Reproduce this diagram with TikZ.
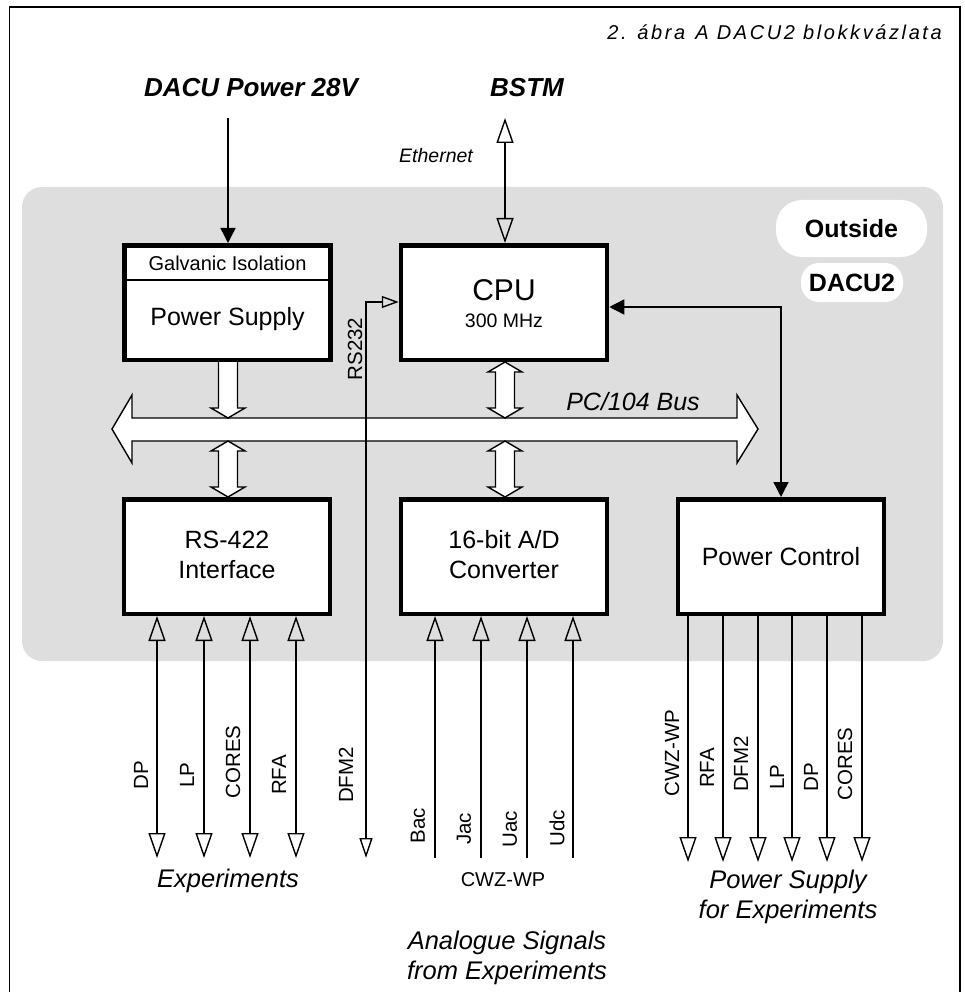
\documentclass[tikz,border=0pt]{standalone}
\usepackage{fontspec}
\setmainfont{Liberation Sans}
\usetikzlibrary{arrows.meta}
\newcommand{\fsz}[1]{\fontsize{#1}{#1}\selectfont}
\definecolor{bggray}{RGB}{222,222,222}
\newcommand{\wideDouble}[3]{%
  \draw[widearrow] (#1,#2) -- ++(17,10) -- ++(-7.5,0) -- (#1+9.5,#3-10) -- ++(7.5,0) -- (#1,#3)
    -- ++(-17,-10) -- ++(7.5,0) -- (#1-9.5,#2+10) -- ++(-7.5,0) -- cycle;}
\tikzset{
  obig/.tip={Triangle[open, length=25pt, width=17pt]},
  osmall/.tip={Triangle[open, length=20pt, width=13pt]},
  ocpu/.tip={Triangle[open, length=17pt, width=12pt]},
  ftip/.tip={Triangle[length=15pt, width=15pt]}
}
\begin{document}
\begin{tikzpicture}[x=1pt,y=-1pt,
  box/.style={draw, line width=4.5pt, fill=white, minimum width=206pt, minimum height=114.5pt, inner sep=0pt},
  txt/.style={inner sep=0pt, anchor=base},
  thinline/.style={line width=1.4pt},
  widearrow/.style={draw, fill=white, line width=1.4pt, line join=miter},
  lab/.style={inner sep=0pt, rotate=90, font=\fsz{20.5}},
  pill/.style={fill=white, inner sep=0pt, font=\bfseries\fsz{25}}
]
\useasboundingbox (0,0) rectangle (964,992);
% frame
\draw[line width=1.5pt] (9.5,992) -- (9.5,7) -- (960,7) -- (960,992);
% title
\node[txt, anchor=base east, font=\itshape\fsz{20}\addfontfeature{LetterSpace=13}] (title) at (942,40) {2. ábra\enspace A DACU2 blokkvázlata};
% grey background
\fill[bggray, rounded corners=20pt] (22,187) rectangle (943,661);
% outside labels
\node[pill, minimum width=151pt, minimum height=57pt, rounded corners=26pt] (outside) at (851.5,228.5) {Outside};
\node[pill, minimum width=102pt, minimum height=39pt, rounded corners=18pt] (dacu) at (852,282.5) {DACU2};
% top labels
\node[txt, font=\bfseries\itshape\fsz{26}] (pwr) at (251,97) {DACU Power 28V};
\node[txt, font=\bfseries\itshape\fsz{26}] (bstm) at (527,97) {BSTM};
\node[txt, font=\itshape\fsz{19.5}] (eth) at (436,163) {Ethernet};
% bus
\draw[widearrow] (112,429) -- (132,395) -- (132,418) -- (737,418) -- (737,395) -- (758,429)
  -- (737,463) -- (737,441) -- (132,441) -- (132,463) -- cycle;
\node[txt, font=\itshape\fsz{25}] (bus) at (633,410) {PC/104 Bus};
% wide arrows
\draw[widearrow] (218.5,358) -- (218.5,408) -- (211,408) -- (228,418) -- (245,408) -- (237.5,408) -- (237.5,358);
\wideDouble{505}{362}{418}
\wideDouble{228}{441}{497}
\wideDouble{505}{441}{497}
% boxes
\node[box] (ps) at (227.5,302.5) {};
\node[box] (cpu) at (504,302.5) {};
\node[box] (rs) at (227,556.5) {};
\node[box] (ad) at (504,556.5) {};
\node[box] (pc) at (781,556.5) {};
\coordinate (div) at (0,280);
\draw[line width=1.6pt] (ps.west |- div) -- (ps.east |- div);
% box texts
\node[txt, font=\fsz{20}] (gal) at (227.5,270) {Galvanic Isolation};
\node[txt, font=\fsz{25}] (pstxt) at (227.5,325) {Power Supply};
\node[txt, font=\fsz{30}] (cputxt) at (504,300) {CPU};
\node[txt, font=\fsz{19.5}] (mhz) at (504,327) {300 MHz};
\node[txt, font=\fsz{25}] (rs1) at (227,548) {RS-422};
\node[txt, font=\fsz{25}] (rs2) at (227,578) {Interface};
\node[txt, font=\fsz{25}] (ad1) at (504,548) {16-bit A/D};
\node[txt, font=\fsz{25}] (ad2) at (504,578) {Converter};
\node[txt, font=\fsz{25}] (pctxt) at (781,565) {Power Control};
% power in and ethernet
\coordinate (pwrin) at (228,118);
\draw[thinline, -{ftip}] (pwrin) -- (pwrin |- ps.north);
\coordinate (bstmend) at (505,118);
\draw[thinline, {obig}-{obig}] (bstmend) -- (bstmend |- cpu.north);
% RS232
\coordinate (rsend) at (366,858);
\coordinate (rscorner) at (366,302);
\draw[thinline, {osmall}-{ocpu}] (rsend) -- (rscorner) -- (cpu.west |- rscorner);
\node[lab] (rs232) at (355,349) {RS232};
% CPU <-> power control
\coordinate (ctl) at (781,307);
\draw[thinline, {ftip}-{ftip}] (pc.north) -- (ctl) -- (cpu.east |- ctl);
% RS-422 lines
\foreach \x [count=\i] in {157,204,250,296} {
  \coordinate (re\i) at (\x,858);
  \draw[thinline, {obig}-{obig}] (re\i) -- (re\i |- rs.south);
}
% A/D lines
\foreach \x [count=\i] in {435,481,527,573} {
  \coordinate (ae\i) at (\x,858);
  \draw[thinline, -{obig}] (ae\i) -- (ae\i |- ad.south);
}
% power control outputs
\foreach \x [count=\i] in {688,723,758,792,827,862} {
  \coordinate (pe\i) at (\x,862);
  \draw[thinline, -{obig}] (pe\i |- pc.south) -- (pe\i);
}
% rotated labels
\node[lab] (l1) at (141,775) {DP};
\node[lab] (l2) at (187,775) {LP};
\node[lab] (l3) at (233,762) {CORES};
\node[lab] (l4) at (279,775) {RFA};
\node[lab] (l5) at (346,775) {DFM2};
\node[lab] (a1) at (418,826) {Bac};
\node[lab] (a2) at (464,829) {Jac};
\node[lab] (a3) at (510,829) {Uac};
\node[lab] (a4) at (557,828) {Udc};
\node[lab] (p1) at (672,753) {CWZ-WP};
\node[lab] (p2) at (707,768) {RFA};
\node[lab] (p3) at (741,764) {DFM2};
\node[lab] (p4) at (777,777) {LP};
\node[lab] (p5) at (811,777) {DP};
\node[lab] (p6) at (845,764) {CORES};
% bottom captions
\node[txt, font=\itshape\fsz{25.5}] (exp) at (228,887) {Experiments};
\node[txt, font=\fsz{20}] (cwz) at (503,886) {CWZ-WP};
\node[txt, font=\itshape\fsz{25.5}] (psx1) at (788,888) {Power Supply};
\node[txt, font=\itshape\fsz{25.5}] (psx2) at (788,918) {for Experiments};
\node[txt, font=\itshape\fsz{25.5}] (an1) at (507,949) {Analogue Signals};
\node[txt, font=\itshape\fsz{25.5}] (an2) at (507,979) {from Experiments};
\end{tikzpicture}
\end{document}
